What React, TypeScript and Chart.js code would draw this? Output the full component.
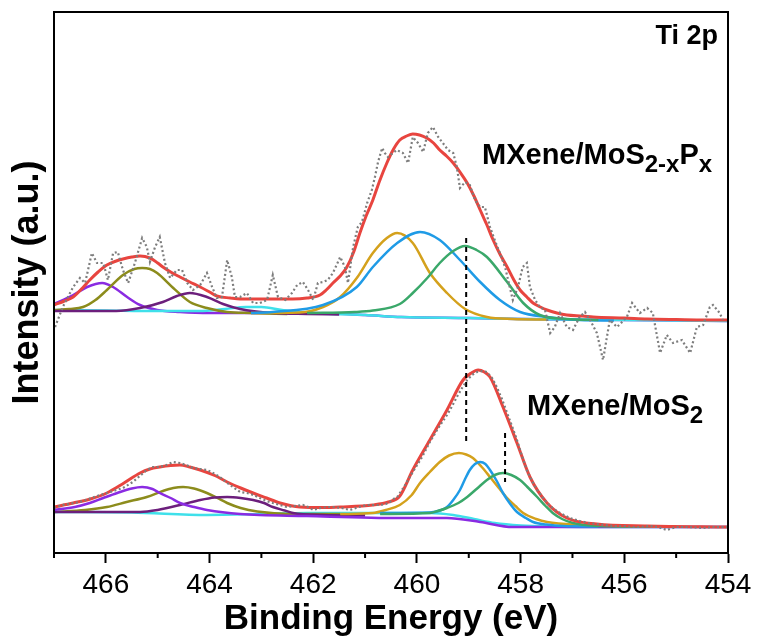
import React, { useEffect, useRef } from "react";
import { Chart, registerables } from "chart.js";

Chart.register(...registerables);

// ---------- axis ----------
const X_MIN = 454;
const X_MAX = 467;
const X_MAJOR = [466, 464, 462, 460, 458, 456, 454];
const X_MINOR = [467, 465, 463, 461, 459, 457, 455];
const Y_MIN = 0;
const Y_MAX = 541;

// ---------- upper spectrum: MXene/MoS2-xPx ----------
const upperRaw: [number, number][] = [
  [466.98, 226], [466.83, 246], [466.63, 266], [466.5, 275], [466.4, 270], [466.27, 300], [466.17, 290],
  [466.05, 290], [465.96, 273], [465.86, 300], [465.77, 301], [465.67, 283], [465.57, 270], [465.44, 290],
  [465.3, 315], [465.21, 306], [465.15, 291], [465.05, 306], [464.96, 316], [464.86, 290], [464.76, 275],
  [464.63, 283], [464.53, 283], [464.43, 270], [464.32, 263], [464.18, 268], [464.05, 280], [463.95, 266],
  [463.86, 255], [463.76, 256], [463.66, 293], [463.57, 276], [463.51, 256], [463.41, 256], [463.28, 260],
  [463.16, 250], [463.03, 250], [462.89, 253], [462.78, 278], [462.68, 256], [462.54, 253], [462.41, 260],
  [462.31, 268], [462.2, 271], [462.1, 263], [462.0, 253], [461.91, 270], [461.81, 271], [461.72, 273],
  [461.62, 280], [461.48, 296], [461.39, 286], [461.33, 270], [461.23, 306], [461.14, 326], [461.06, 331],
  [460.96, 350], [460.87, 363], [460.81, 376], [460.75, 391], [460.67, 405], [460.62, 400], [460.56, 396],
  [460.46, 400], [460.39, 403], [460.27, 400], [460.17, 390], [460.08, 416], [459.98, 410], [459.88, 401],
  [459.79, 420], [459.69, 426], [459.59, 416], [459.5, 410], [459.4, 403], [459.3, 400], [459.23, 386],
  [459.17, 365], [459.07, 371], [458.98, 368], [458.88, 353], [458.78, 346], [458.69, 346], [458.59, 326],
  [458.5, 313], [458.4, 300], [458.3, 286], [458.21, 266], [458.15, 253], [458.05, 266], [457.96, 286],
  [457.88, 290], [457.82, 266], [457.72, 253], [457.63, 246], [457.53, 243], [457.43, 220], [457.34, 226],
  [457.24, 240], [457.11, 226], [456.99, 223], [456.86, 236], [456.76, 241], [456.66, 233], [456.53, 220],
  [456.41, 193], [456.28, 233], [456.14, 226], [455.95, 236], [455.85, 250], [455.7, 240], [455.56, 245],
  [455.45, 240], [455.31, 200], [455.18, 218], [455.06, 210], [454.89, 213], [454.73, 200], [454.6, 226],
  [454.48, 228], [454.35, 246], [454.29, 248], [454.16, 240], [454.1, 233],
];

const upperEnvelope: [number, number][] = [
  [467, 248], [466.8, 252], [466.63, 256], [466.45, 265], [466.31, 273], [466.15, 281], [465.98, 288],
  [465.8, 292], [465.67, 294], [465.5, 296], [465.34, 297], [465.15, 295], [465.0, 290], [464.9, 286],
  [464.75, 281], [464.57, 276], [464.38, 271], [464.18, 266], [464.0, 261], [463.86, 257], [463.6, 255],
  [463.41, 254], [463.1, 254], [462.78, 254], [462.4, 254], [462.12, 255], [461.87, 258], [461.75, 263],
  [461.62, 270], [461.48, 277], [461.35, 286], [461.22, 301], [461.1, 320], [460.98, 337], [460.85, 353],
  [460.72, 372], [460.58, 390], [460.45, 404], [460.33, 413], [460.2, 417], [460.08, 419], [459.95, 418],
  [459.81, 415], [459.68, 410], [459.56, 403], [459.43, 397], [459.3, 390], [459.17, 381], [459.03, 370],
  [458.9, 357], [458.78, 343], [458.65, 328], [458.53, 313], [458.4, 299], [458.26, 286], [458.13, 273],
  [458.01, 263], [457.88, 256], [457.76, 250], [457.62, 246], [457.49, 243], [457.3, 240], [457.11, 238],
  [456.8, 237], [456.6, 236], [456.0, 235], [455.56, 234], [455.0, 233.5], [454.1, 233], [454.0, 233],
];

const upperViolet: [number, number][] = [
  [467, 249], [466.63, 258], [466.36, 266], [466.07, 270], [465.86, 266], [465.59, 256], [465.34, 248],
  [465.01, 243], [464.57, 241], [464.0, 240], [462.1, 240], [461, 238], [460.3, 236], [459, 235],
  [458, 234], [456, 233], [454, 232],
];
const upperOlive: [number, number][] = [
  [467, 243], [466.7, 244], [466.44, 246], [466.2, 253], [465.98, 263], [465.67, 278], [465.45, 284],
  [465.3, 285], [465.15, 284], [465.01, 280], [464.7, 265], [464.38, 251], [464.05, 245], [463.66, 241],
  [463.2, 240], [462.5, 239],
];
const upperPlum: [number, number][] = [
  [467, 242], [465.8, 242], [465.34, 245], [464.9, 251], [464.63, 257], [464.38, 260], [464.05, 256],
  [463.74, 249], [463.41, 244], [462.78, 240], [462.12, 239], [461.5, 238.5],
];
const upperGold: [number, number][] = [
  [463.2, 240], [462.26, 240.5], [461.81, 246], [461.48, 256], [461.16, 275], [460.85, 300], [460.58, 315],
  [460.38, 320], [460.08, 310], [459.75, 280], [459.42, 260], [459.07, 244], [458.65, 236], [458.15, 234],
  [457.5, 233.5],
];
const upperBlue: [number, number][] = [
  [463.2, 240], [462.78, 241], [461.81, 248], [461.16, 266], [460.85, 286], [460.38, 310], [459.94, 321],
  [459.56, 313], [459.17, 293], [458.78, 271], [458.4, 253], [458.01, 241], [457.49, 236], [456.86, 233],
  [456.2, 232.5],
];
const upperGreen: [number, number][] = [
  [462.12, 240], [461.2, 241], [460.85, 242.5], [460.33, 249], [460.08, 260], [459.8, 275], [459.56, 290],
  [459.3, 302], [459.07, 307], [458.85, 303], [458.65, 296], [458.26, 271], [457.95, 250], [457.63, 238],
  [457.11, 234], [456.5, 233],
];
const upperBackground: [number, number][] = [
  [467, 243], [466, 242.5], [465, 242], [464.2, 242], [463.7, 244], [463.3, 246], [463.0, 246],
  [462.6, 243], [462.1, 240], [461, 238], [460.3, 236], [459, 235], [458, 234], [456, 233], [454, 232],
];

// ---------- lower spectrum: MXene/MoS2 ----------
const lowerRaw: [number, number][] = [
  [467.0, 45], [466.83, 48], [466.5, 51], [466.11, 58], [465.98, 60], [465.67, 65], [465.48, 71],
  [465.21, 83], [465.09, 86], [464.96, 86], [464.83, 88], [464.7, 91], [464.57, 90], [464.45, 88],
  [464.32, 85], [464.18, 84], [464.05, 83], [463.93, 80], [463.8, 76], [463.68, 71], [463.55, 66],
  [463.41, 61], [463.28, 60], [463.15, 58], [463.03, 55], [462.9, 52], [462.78, 50], [462.64, 48],
  [462.51, 46], [462.35, 47], [462.2, 48], [462.1, 46], [462.0, 43], [461.86, 45], [461.73, 46],
  [461.62, 46], [461.45, 45], [461.29, 43], [461.12, 46], [460.96, 48], [460.85, 48], [460.71, 48],
  [460.6, 49], [460.52, 51], [460.45, 54], [460.38, 56], [460.25, 66], [460.08, 81], [459.9, 96],
  [459.75, 111], [459.6, 124], [459.42, 138], [459.32, 147], [459.23, 156], [459.13, 165], [459.03, 173],
  [458.94, 178], [458.84, 181], [458.74, 182], [458.65, 181], [458.55, 175], [458.46, 166], [458.36, 154],
  [458.26, 140], [458.16, 126], [458.07, 113], [457.98, 98], [457.88, 83], [457.78, 72], [457.68, 63],
  [457.58, 56], [457.49, 50], [457.36, 44], [457.24, 40], [457.05, 35], [456.86, 32], [456.7, 30],
  [456.53, 29], [456.38, 28], [456.22, 27], [456.0, 27], [455.85, 26], [455.7, 26], [455.5, 27],
  [455.35, 26], [455.18, 23], [455.0, 26], [454.79, 26], [454.6, 25.5], [454.48, 25], [454.3, 26],
  [454.1, 26], [454.0, 26],
];

const lowerEnvelope: [number, number][] = [
  [467, 46], [466.63, 50], [466.3, 54], [465.98, 60], [465.65, 70], [465.34, 80], [465.15, 84],
  [464.96, 86], [464.75, 87.5], [464.57, 88], [464.38, 86], [464.18, 83], [463.9, 77.5], [463.66, 71],
  [463.4, 65], [463.16, 60], [462.9, 55], [462.64, 50], [462.26, 46], [461.8, 45.5], [461.48, 46],
  [460.85, 48], [460.55, 51], [460.33, 57], [460.08, 83], [459.75, 113], [459.42, 143], [459.11, 173],
  [458.95, 180], [458.82, 183], [458.7, 181], [458.59, 176], [458.34, 146], [458.07, 110], [457.82, 76],
  [457.49, 50], [457.11, 35], [456.53, 29], [455.56, 27], [454.0, 26],
];

const lowerViolet: [number, number][] = [
  [467, 43], [466.6, 46], [466.31, 50], [466.05, 55], [465.78, 60], [465.5, 64.5], [465.3, 66],
  [465.1, 64], [464.96, 60], [464.75, 55], [464.57, 50], [464.3, 46], [464.05, 43], [463.41, 39],
  [462.12, 37], [460.33, 35], [459.42, 35], [458.78, 31], [458.15, 26], [456, 26], [454, 26],
];
const lowerOlive: [number, number][] = [
  [467, 41], [466.4, 43], [465.98, 46], [465.6, 51], [465.21, 56], [464.9, 62], [464.7, 65], [464.51, 66],
  [464.3, 64.5], [464.05, 60], [463.85, 55], [463.66, 50], [463.4, 45], [463.08, 41.5], [462.45, 39],
  [461.48, 39],
];
const lowerPlum: [number, number][] = [
  [467, 41], [465.34, 41], [465.0, 43], [464.57, 48], [464.18, 53], [463.9, 55.5], [463.66, 56], [463.4, 55],
  [463.16, 53], [462.95, 50], [462.78, 46], [462.55, 42.5], [462.39, 40], [461.81, 38], [461.0, 37.5],
];
const lowerGold: [number, number][] = [
  [461.48, 39], [460.85, 40], [460.6, 43], [460.33, 48], [460.1, 58], [459.94, 70], [459.75, 81],
  [459.56, 91], [459.38, 97.5], [459.19, 100], [459.05, 98.5], [458.92, 95], [458.75, 86], [458.59, 76],
  [458.42, 65], [458.26, 55], [458.1, 47], [457.95, 40], [457.7, 34], [457.49, 31], [456.86, 28],
  [456.22, 27], [455.0, 26.5],
];
const lowerBlue: [number, number][] = [
  [460.71, 40], [459.75, 40.5], [459.55, 42.5], [459.42, 46], [459.3, 53], [459.17, 63], [459.08, 73],
  [458.98, 83], [458.88, 89], [458.78, 91], [458.68, 89], [458.59, 83], [458.46, 72], [458.34, 60],
  [458.2, 49], [458.07, 41], [457.9, 35], [457.76, 31], [457.5, 28.5], [457.18, 27], [456.5, 26.5],
];
const lowerGreen: [number, number][] = [
  [460.71, 39], [459.75, 40], [459.6, 42], [459.42, 45], [459.2, 50], [459.03, 56], [458.85, 64],
  [458.65, 73], [458.5, 78], [458.34, 80], [458.18, 78], [458.01, 73], [457.85, 65], [457.68, 56],
  [457.52, 47], [457.38, 40], [457.2, 34], [456.99, 30], [456.53, 27], [455.5, 26.5],
];
const lowerBackground: [number, number][] = [
  [467, 41], [465.5, 40.5], [464.05, 38], [463, 39], [462.12, 40], [460.33, 40], [459.75, 40],
  [459.3, 38], [458.9, 34], [458.5, 30], [458.0, 27.5], [457.5, 26.5], [456, 26], [454, 26],
];

// ---------- reference markers (dashed) ----------
const markerUpper: [number, number][] = [[459.05, 315], [459.05, 110]];
const markerLower: [number, number][] = [[458.3, 120], [458.3, 71]];

const COLORS = {
  raw: "#7d7d7d",
  envelope: "#e8453f",
  gold: "#d4a11c",
  blue: "#1f9be6",
  green: "#3aa86a",
  violet: "#8a2be2",
  olive: "#8c8c1c",
  plum: "#6c1f7c",
  background: "#3fe0ea",
};

const FONT = "'Liberation Sans', Arial, Helvetica, sans-serif";

const toPts = (a: [number, number][]) => a.map(([x, y]) => ({ x, y }));

const curve = (data: [number, number][], color: string, width = 2.5) => ({
  data: toPts(data),
  borderColor: color,
  borderWidth: width,
  pointRadius: 0,
  fill: false,
  cubicInterpolationMode: "monotone" as const,
});

const dotted = (data: [number, number][]) => ({
  data: toPts(data),
  borderColor: COLORS.raw,
  borderWidth: 2.2,
  borderDash: [2, 2.5],
  pointRadius: 0,
  fill: false,
  tension: 0,
});

const dashed = (data: [number, number][]) => ({
  data: toPts(data),
  borderColor: "#000",
  borderWidth: 2,
  borderDash: [5, 4],
  pointRadius: 0,
  fill: false,
  tension: 0,
});

const decorPlugin = {
  id: "decor",
  afterDraw(chart: any) {
    const ctx = chart.ctx as CanvasRenderingContext2D;
    const { left, right, top, bottom } = chart.chartArea;
    const xs = chart.scales.x;
    ctx.save();
    ctx.strokeStyle = "#000";
    ctx.lineWidth = 2;
    ctx.strokeRect(left, top, right - left, bottom - top);
    ctx.beginPath();
    X_MINOR.forEach((v) => {
      const px = xs.getPixelForValue(v);
      ctx.moveTo(px, bottom);
      ctx.lineTo(px, bottom + 5);
    });
    ctx.stroke();

    ctx.fillStyle = "#000";
    ctx.textBaseline = "alphabetic";
    // panel label
    ctx.textAlign = "right";
    ctx.font = `bold 27px ${FONT}`;
    ctx.fillText("Ti 2p", right - 10, top + 32);

    ctx.textAlign = "left";
    const drawParts = (x: number, y: number, parts: { t: string; sub?: boolean }[]) => {
      let cx = x;
      parts.forEach((p) => {
        ctx.font = p.sub ? `bold 24px ${FONT}` : `bold 29px ${FONT}`;
        ctx.fillText(p.t, cx, p.sub ? y + 8 : y);
        cx += ctx.measureText(p.t).width;
      });
    };
    drawParts(left + 428, top + 152, [
      { t: "MXene/MoS" }, { t: "2-x", sub: true }, { t: "P" }, { t: "x", sub: true },
    ]);
    drawParts(left + 473, top + 403, [{ t: "MXene/MoS" }, { t: "2", sub: true }]);
    ctx.restore();
  },
};

export default function App() {
  const ref = useRef<HTMLCanvasElement | null>(null);

  useEffect(() => {
    if (!ref.current) return;
    Chart.defaults.font.family = FONT;
    const chart = new Chart(ref.current, {
      type: "line",
      data: {
        datasets: [
          dashed(markerUpper),
          dashed(markerLower),
          dotted(upperRaw),
          curve(upperEnvelope, COLORS.envelope, 3),
          curve(upperGreen, COLORS.green),
          curve(upperBlue, COLORS.blue),
          curve(upperGold, COLORS.gold),
          curve(upperPlum, COLORS.plum),
          curve(upperOlive, COLORS.olive),
          curve(upperBackground, COLORS.background),
          curve(upperViolet, COLORS.violet),
          dotted(lowerRaw),
          curve(lowerEnvelope, COLORS.envelope, 3),
          curve(lowerGreen, COLORS.green),
          curve(lowerBlue, COLORS.blue),
          curve(lowerGold, COLORS.gold),
          curve(lowerViolet, COLORS.violet),
          curve(lowerPlum, COLORS.plum),
          curve(lowerOlive, COLORS.olive),
          curve(lowerBackground, COLORS.background),
        ] as any,
      },
      options: {
        responsive: false,
        maintainAspectRatio: false,
        devicePixelRatio: 1,
        animation: false,
        parsing: true,
        layout: { padding: { top: 12, right: 29, left: 0, bottom: 0 } },
        plugins: { legend: { display: false }, tooltip: { enabled: false } },
        scales: {
          x: {
            type: "linear",
            reverse: true,
            min: X_MIN,
            max: X_MAX,
            afterBuildTicks: (scale: any) => {
              scale.ticks = X_MAJOR.map((v) => ({ value: v }));
            },
            afterFit: (scale: any) => {
              scale.height = 89;
            },
            ticks: {
              color: "#000",
              font: { size: 28, family: FONT },
              padding: 5,
              maxRotation: 0,
              autoSkip: false,
            },
            grid: {
              display: true,
              drawOnChartArea: false,
              drawTicks: true,
              tickLength: 10,
              tickWidth: 2,
              tickColor: "#000",
            },
            border: { display: true, color: "#000", width: 2 },
            title: {
              display: true,
              text: "Binding Energy (eV)",
              color: "#000",
              font: { size: 35, weight: "bold", family: FONT },
              padding: { top: 0, bottom: 2 },
            },
          },
          y: {
            type: "linear",
            min: Y_MIN,
            max: Y_MAX,
            afterFit: (scale: any) => {
              scale.width = 54;
            },
            ticks: { display: false },
            grid: { display: false, drawTicks: false },
            border: { display: true, color: "#000", width: 2 },
            title: {
              display: true,
              text: "Intensity (a.u.)",
              color: "#000",
              font: { size: 36, weight: "bold", family: FONT },
              padding: { top: 6, bottom: 0 },
            },
          },
        },
      },
      plugins: [decorPlugin],
    });
    return () => chart.destroy();
  }, []);

  return (
    <div style={{ position: "absolute", left: 0, top: 0, width: 757, height: 642, background: "#fff" }}>
      <canvas ref={ref} width={757} height={642} style={{ display: "block" }} />
    </div>
  );
}
